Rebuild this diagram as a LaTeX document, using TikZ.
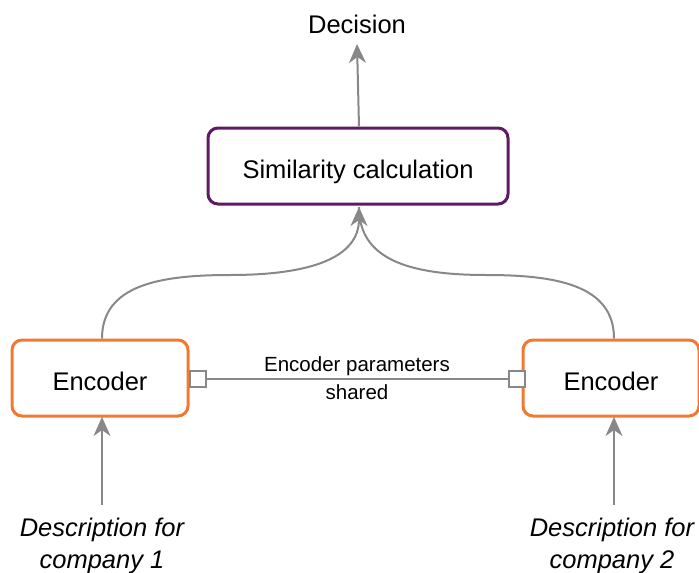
\documentclass[tikz,border=0pt]{standalone}
\usepackage{fontspec}
\setmainfont{Liberation Sans}
\usetikzlibrary{arrows.meta}
\definecolor{simpurple}{HTML}{5E1A64}
\definecolor{encorange}{HTML}{F07A32}
\definecolor{conngray}{HTML}{888888}
\tikzset{
  box/.style={draw, line width=3pt, rounded corners=10pt, minimum height=76pt, inner sep=0pt,
    text height=24pt, text depth=0pt,
    font=\fontsize{25.5}{30}\selectfont},
  encbox/.style={box, draw=encorange, minimum width=176pt},
  simbox/.style={box, draw=simpurple, minimum width=300pt},
  conn/.style={draw=conngray, line width=2pt, -{Stealth[length=19pt,width=17pt,inset=6pt]}},
  plain/.style={draw=conngray, line width=2pt},
  sq/.style={draw=conngray, line width=2pt, fill=white, minimum size=16pt, inner sep=0pt},
  bigtext/.style={font=\fontsize{25.5}{30}\selectfont, inner sep=2pt},
  desc/.style={font=\fontsize{25.5}{32}\selectfont\itshape, align=center, inner sep=2pt},
  smalltext/.style={font=\fontsize{20.5}{28}\selectfont, align=center, inner sep=0pt}
}
\begin{document}
\begin{tikzpicture}[x=1pt,y=-1pt]
\useasboundingbox (0,0) rectangle (699,573);
\node[bigtext] (dec) at (357,24) {Decision};
\node[simbox] (sim) at (358,166) {Similarity calculation};
\node[encbox] (encL) at (100,378) {Encoder};
\node[encbox] (encR) at (611,378) {Encoder};
\node[desc] (descL) at (102,546) {Description for\\company 1};
\node[desc] (descR) at (612,546) {Description for\\company 2};
\coordinate (decin) at (357,44);
\coordinate (mid) at (230,275);
\coordinate (midR) at (486,275);
% arrows
\draw[conn] ([xshift=1pt]sim.north) -- (decin);
\draw[conn] (102,505) -- (102,417);
\draw[conn] (614,505) -- (614,417);
\draw[plain] ([xshift=2pt]encL.north) .. controls (102,285) and (160,275) .. (mid);
\draw[conn] (mid) .. controls (310,275) and (359,258) .. ([xshift=1pt,yshift=-1.5pt]sim.south);
\draw[plain] ([xshift=3pt]encR.north) .. controls (614,285) and (556,275) .. (midR);
\draw[plain] (midR) .. controls (406,275) and (359,258) .. ([xshift=1pt,yshift=-1.5pt]sim.south);
% shared parameters
\node[sq] (sqL) at (198,379) {};
\node[sq] (sqR) at (517,379) {};
\draw[plain] (sqL.east) -- (sqR.west);
\node[smalltext] (lab) at (357,378) {Encoder parameters\\shared};
\end{tikzpicture}
\end{document}
